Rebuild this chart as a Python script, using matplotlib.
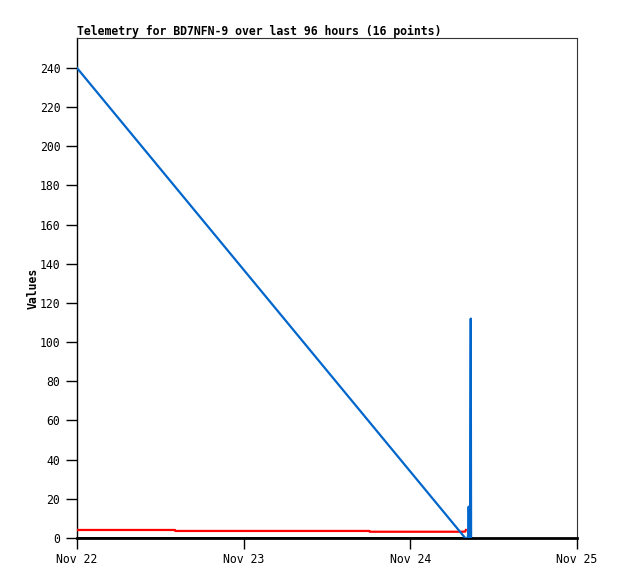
import datetime as dt

import matplotlib

matplotlib.use("Agg")
import matplotlib.dates as mdates
import matplotlib.pyplot as plt

start = dt.datetime(2023, 11, 22)

# hours since Nov 22 00:00 and values
blue_hours = [0.0, 55.9, 56.3, 56.4, 56.5, 56.6, 56.7, 56.75]
blue_vals = [240.0, 0.0, 0.0, 16.0, 0.0, 0.0, 112.0, 0.0]

red_hours = [0.0, 14.1, 14.15, 42.1, 42.15, 55.4, 55.9, 56.0]
red_vals = [4.1, 4.1, 3.6, 3.6, 3.2, 3.2, 3.3, 4.1]

black_hours = [0.0, 56.75]
black_vals = [0.0, 0.0]

xticks = ["2023-11-22", "2023-11-23", "2023-11-24", "2023-11-25"]
yticks = list(range(0, 241, 20))


def to_dates(hours):
    return [start + dt.timedelta(hours=h) for h in hours]


fig = plt.figure(figsize=(6.18, 5.79), dpi=100)
ax = fig.add_axes([77 / 618, 41 / 579, 500 / 618, 500 / 579])

ax.plot(to_dates(black_hours), black_vals, color="black", lw=2, zorder=2)
ax.plot(to_dates(red_hours), red_vals, color="#ff0000", lw=1.6, zorder=3)
ax.plot(to_dates(blue_hours), blue_vals, color="#0066cc", lw=1.6, zorder=4)

ax.set_xlim(dt.datetime(2023, 11, 22), dt.datetime(2023, 11, 25))
ax.set_ylim(0, 255.3)
ax.set_xticks([dt.datetime.fromisoformat(t) for t in xticks])
ax.xaxis.set_major_formatter(mdates.DateFormatter("%b %d"))
ax.set_yticks(yticks)

mono = "DejaVu Sans Mono"
for lab in ax.get_xticklabels() + ax.get_yticklabels():
    lab.set_family(mono)
    lab.set_fontsize(8.3)
ax.tick_params(direction="out", length=8, width=1, colors="black", pad=4)
ax.tick_params(axis="x", pad=3)

ax.spines["left"].set_linewidth(1)
ax.spines["bottom"].set_linewidth(2)
ax.spines["top"].set_linewidth(0.8)
ax.spines["right"].set_linewidth(0.8)
ax.spines["top"].set_color("#333333")
ax.spines["right"].set_color("#333333")

ax.set_ylabel("Values", family=mono, fontweight="bold", fontsize=8.3, labelpad=0)
fig.text(77 / 618, 1 - 35 / 579, "Telemetry for BD7NFN-9 over last 96 hours (16 points)",
         family=mono, fontweight="bold", fontsize=8.3, ha="left", va="baseline")

fig.savefig("out.png", dpi=100)
